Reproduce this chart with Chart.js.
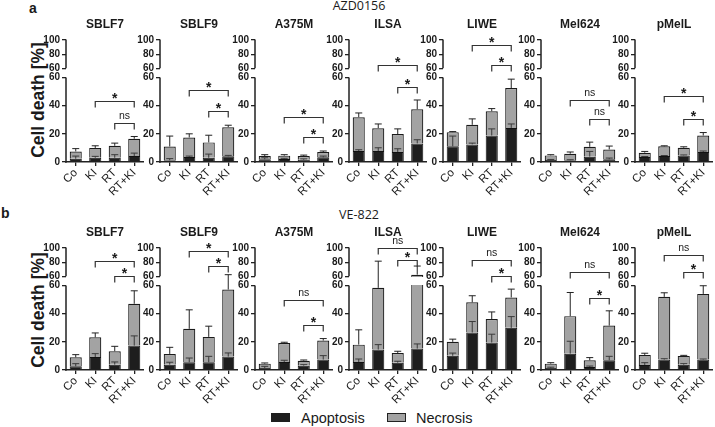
<!DOCTYPE html>
<html lang="en">
<head>
<meta charset="UTF-8">
<title>Cell death AZD0156 / VE-822</title>
<style>
  body { margin: 0; background: #fff; font-family: "Liberation Sans", Arial, sans-serif; color: #1a1a1a; }
  #fig { position: relative; width: 715px; height: 427px; overflow: hidden; }
  #fig canvas { position: absolute; }
  .txt { position: absolute; white-space: nowrap; }
  .tag { font-weight: bold; font-size: 14px; line-height: 16px; }
  .drug { font-family: "Open Sans", sans-serif; font-size: 12.5px; transform: translate(-50%, -50%); }
  .ylab { font-weight: bold; font-size: 17.5px; transform: translate(-50%, -50%) rotate(-90deg); }
  .box { position: absolute; width: 19px; height: 9px; box-sizing: border-box; }
  .leg { font-size: 14.5px; transform: translateY(-50%); }
</style>
</head>
<body>
<div id="fig">
  <div class="txt tag" style="left:29px; top:0px">a</div>
  <div class="txt tag" style="left:1px; top:205px">b</div>
  <div class="txt drug" style="left:359px; top:5px">AZD0156</div>
  <div class="txt drug" style="left:359px; top:214px">VE-822</div>
  <div class="txt ylab" style="left:38px; top:100px">Cell death [%]</div>
  <div class="txt ylab" style="left:38px; top:310px">Cell death [%]</div>

  <div class="box" style="left:271px; top:413px; background:#1e1e1e"></div>
  <div class="txt leg" style="left:301px; top:418px">Apoptosis</div>
  <div class="box" style="left:387px; top:413px; background:#a3a3a3; border:1.5px solid #222"></div>
  <div class="txt leg" style="left:416px; top:418px">Necrosis</div>
</div>

<script src="https://cdn.jsdelivr.net/npm/chart.js"></script>
<script>
const treatments = ['Co', 'KI', 'RT', 'RT+KI']
const cellLines = ['SBLF7', 'SBLF9', 'A375M', 'ILSA', 'LIWE', 'Mel624', 'pMelL']

// row a: AZD0156, one inner array per cell line (Co, KI, RT, RT+KI)
const azdApoptosis = [
  [2.3, 3, 3, 4.2], [1.2, 3.5, 3, 4], [1.9, 2.1, 1.6, 3.3], [7.8, 7.8, 7.1, 13.2],
  [11.1, 12.5, 18.8, 24.2], [1.4, 1.2, 3.8, 1.9], [3.5, 4.2, 4.7, 7.1]
]
const azdApoptosisSd = [
  [1.9, 1, 2.2, 2.1], [1.2, 0.7, 2.6, 0.7], [1.1, 0.5, 0.6, 0.9], [0.9, 2.3, 2.3, 2.6],
  [7.3, 0.9, 4.7, 2.8], [0.4, 0.4, 3.7, 0.9], [0.4, 0.4, 0.3, 0.7]
]
const azdNecrosis = [
  [5.2, 7, 8.5, 12.3], [9.8, 13.9, 10.9, 20.7], [2.3, 2.4, 2.6, 3.8], [24, 16.2, 12.7, 24.2],
  [10.1, 13.9, 17.2, 28.3], [3.3, 4.7, 7, 7], [3.1, 6.9, 5.4, 11.7]
]
const azdNecrosisSd = [
  [2, 1.5, 1.9, 1.6], [7.4, 2.6, 5.1, 1.4], [1, 0.7, 0.7, 0.7], [3, 3, 3.7, 6.6],
  [0.4, 4.2, 1.9, 6.3], [0.5, 1.2, 3.3, 2.4], [0.9, 0.4, 0.7, 2.1]
]
// [from, to, height, label]
const azdBrackets = [
  [[1, 3, 43.5, '*'], [2, 3, 27.5, 'ns']],
  [[1, 3, 51, '*'], [2, 3, 36, '*']],
  [[1, 3, 32.2, '*'], [2, 3, 17.6, '*']],
  [[1, 3, 64.8, '*'], [2, 3, 53.4, '*']],
  [[1, 3, 93.5, '*'], [2, 3, 64, '*']],
  [[1, 3, 44, 'ns'], [2, 3, 30.6, 'ns']],
  [[1, 3, 47, '*'], [2, 3, 30.6, '*']]
]

// row b: VE-822
const veApoptosis = [
  [2.6, 9.2, 3.8, 17.3], [3.8, 5.5, 5.5, 9.5], [1.4, 5.7, 3.1, 7.4], [5.7, 14.5, 5.2, 15.2],
  [10.1, 26.6, 19.5, 29.9], [1.4, 11.6, 2.1, 6.9], [3.6, 7.4, 3.8, 7.4]
]
const veApoptosisSd = [
  [1.9, 2.4, 1.9, 6.9], [1.7, 3, 4.2, 2.6], [1.2, 1.2, 0.7, 2.8], [2.1, 3.5, 1, 3.3],
  [1.9, 7.8, 5.9, 8], [0.6, 8.8, 0.7, 2.8], [1.6, 0.6, 0.7, 0.4]
]
const veNecrosis = [
  [6.4, 14, 9.5, 29.7], [7.6, 23.7, 18, 47.6], [3.1, 13.5, 3.5, 13.5], [12.3, 43.8, 6.9, 47.1],
  [9.9, 21.4, 16.7, 21.6], [3.1, 26.6, 4.8, 24.6], [7.1, 44.5, 6.2, 46.6]
]
const veNecrosisSd = [
  [1.9, 3.1, 3.5, 9.2], [4.7, 13.5, 7.6, 5.2], [0.5, 0.5, 0.5, 1.4], [10.5, 23.1, 1.2, 12.2],
  [1.9, 4.7, 5, 5.9], [0.7, 16.8, 1.9, 10.5], [1.2, 2.9, 0.4, 5.8]
]
const veBrackets = [
  [[1, 3, 81.4, '*'], [2, 3, 60.2, '*']],
  [[1, 3, 95.5, '*'], [2, 3, 74, '*']],
  [[1, 3, 49.8, 'ns'], [2, 3, 31.8, '*']],
  [[1, 3, 100.5, 'ns'], [2, 3, 83.6, '*']],
  [[1, 3, 82.8, 'ns'], [2, 3, 60.2, '*']],
  [[1, 3, 65.5, 'ns'], [2, 3, 51.2, '*']],
  [[1, 3, 89.5, 'ns'], [2, 3, 65.9, '*']]
]

const yTicks = [0, 20, 40, 60, 60.0001, 80, 100]

// layout
const axisX = [66, 160, 255, 349, 443, 541, 635]
const rowTop = [0, 208]
const Y_W = 26, PLOT_W = 78, CANVAS_H = 202
const BREAK = 60
const INK = '#1a1a1a'

Chart.defaults.font.family = "'Liberation Sans', Arial, sans-serif"
Chart.defaults.color = INK

// y axis with a break: 0-60 in the lower part, 60-100 squeezed on top
class BrokenScale extends Chart.LinearScale {
  segs() {
    const h = this.bottom - this.top
    return { low: h * 0.693, high: h * 0.232 }
  }
  getPixelForValue(v) {
    const s = this.segs()
    if (v <= BREAK) return this.bottom - v / BREAK * s.low
    return this.top + (this.max - v) / (this.max - BREAK) * s.high
  }
  getValueForPixel(p) {
    const s = this.segs()
    if (p >= this.bottom - s.low) return (this.bottom - p) / s.low * BREAK
    return this.max - (p - this.top) / s.high * (this.max - BREAK)
  }
}
BrokenScale.id = 'broken'
BrokenScale.defaults = Chart.LinearScale.defaults
Chart.register(BrokenScale)

function decor(apop, apopSd, necro, necroSd, brackets) {
  return {
    id: 'decor',
    afterDatasetsDraw(chart) {
      const { ctx, chartArea: a, scales: { x, y } } = chart
      const gapTop = y.getPixelForValue(BREAK + 0.0001)
      const gapBot = y.getPixelForValue(BREAK)
      ctx.save()
      // cut the bars at the axis break
      ctx.clearRect(a.left + 1, gapTop + 0.5, a.right - a.left, gapBot - gapTop - 1)

      // error bars (upper only)
      ctx.lineWidth = 1
      const meta = chart.getDatasetMeta(0)
      meta.data.forEach((bar, i) => {
        const tot = apop[i] + necro[i]
        const parts = [[apop[i], apopSd[i], '#3a3a3a'], [tot, necroSd[i], '#222']]
        parts.forEach(([v, sd, col]) => {
          const y0 = y.getPixelForValue(v), y1 = y.getPixelForValue(v + sd)
          ctx.strokeStyle = col
          ctx.beginPath()
          ctx.moveTo(bar.x, y0)
          ctx.lineTo(bar.x, y1)
          ctx.moveTo(bar.x - 3.5, y1)
          ctx.lineTo(bar.x + 3.5, y1)
          ctx.stroke()
        })
      })

      // significance brackets
      brackets.forEach(([i, j, h, label]) => {
        const x1 = x.getPixelForValue(i), x2 = x.getPixelForValue(j)
        const yp = Math.round(y.getPixelForValue(h)) + 0.5
        ctx.strokeStyle = '#333'
        ctx.lineWidth = 1.2
        ctx.beginPath()
        ctx.moveTo(x1, yp + 6)
        ctx.lineTo(x1, yp)
        ctx.lineTo(x2, yp)
        ctx.lineTo(x2, yp + 6)
        ctx.stroke()
        ctx.fillStyle = INK
        ctx.textAlign = 'center'
        ctx.textBaseline = 'alphabetic'
        if (label === '*') {
          ctx.font = "bold 14px 'Liberation Sans', Arial, sans-serif"
          ctx.fillText(label, (x1 + x2) / 2, yp + 1)
        } else {
          ctx.font = "10.5px 'Liberation Sans', Arial, sans-serif"
          ctx.fillText(label, (x1 + x2) / 2, yp - 5)
        }
      })

      // broken y axis line
      ctx.strokeStyle = '#222'
      ctx.lineWidth = 1.5
      ctx.beginPath()
      ctx.moveTo(a.left, y.getPixelForValue(0) + 0.75)
      ctx.lineTo(a.left, gapBot)
      ctx.moveTo(a.left, gapTop)
      ctx.lineTo(a.left, y.getPixelForValue(100) - 0.5)
      ctx.stroke()
      ctx.restore()
    }
  }
}

function panel(row, p, apop, apopSd, necro, necroSd, brackets) {
  const cv = document.createElement('canvas')
  cv.width = Y_W + PLOT_W
  cv.height = CANVAS_H
  cv.style.left = (axisX[p] - Y_W) + 'px'
  cv.style.top = rowTop[row] + 'px'
  document.getElementById('fig').appendChild(cv)

  new Chart(cv, {
    type: 'bar',
    data: {
      labels: treatments,
      datasets: [
        { label: 'Apoptosis', data: apop[p], backgroundColor: '#1e1e1e', borderColor: '#111', borderWidth: 1 },
        { label: 'Necrosis', data: necro[p], backgroundColor: '#a3a3a3', borderColor: '#1a1a1a', borderWidth: 1.2 }
      ]
    },
    options: {
      responsive: false,
      animation: false,
      events: [],
      barPercentage: 0.62,
      categoryPercentage: 1,
      layout: { padding: 0 },
      plugins: {
        legend: { display: false },
        tooltip: { enabled: false },
        title: {
          display: true, text: cellLines[p], fullSize: false, color: INK,
          font: { size: 12, weight: 'bold' }, padding: { top: 17, bottom: 8.6 }
        }
      },
      scales: {
        x: {
          stacked: true,
          offset: true,
          grid: { display: true, drawOnChartArea: false, offset: false, tickLength: 4, color: '#222', lineWidth: 1.3 },
          border: { display: true, color: '#222', width: 1.5 },
          ticks: { minRotation: 45, maxRotation: 45, autoSkip: false, padding: 0, color: INK, font: { size: 11.5 } },
          afterFit: s => { s.height = 40 }
        },
        y: {
          type: 'broken',
          stacked: true,
          min: 0,
          max: 100,
          afterBuildTicks: s => { s.ticks = yTicks.map(v => ({ value: v })) },
          afterFit: s => { s.width = Y_W },
          grid: { display: true, drawOnChartArea: false, tickLength: 4, color: '#222', lineWidth: 1.3 },
          border: { display: false },
          ticks: { padding: 2, color: INK, font: { size: 10, weight: 'bold' }, callback: v => Math.round(v) }
        }
      }
    },
    plugins: [decor(apop[p], apopSd[p], necro[p], necroSd[p], brackets[p])]
  })
}

cellLines.forEach((name, p) => {
  panel(0, p, azdApoptosis, azdApoptosisSd, azdNecrosis, azdNecrosisSd, azdBrackets)
  panel(1, p, veApoptosis, veApoptosisSd, veNecrosis, veNecrosisSd, veBrackets)
})
</script>
</body>
</html>
